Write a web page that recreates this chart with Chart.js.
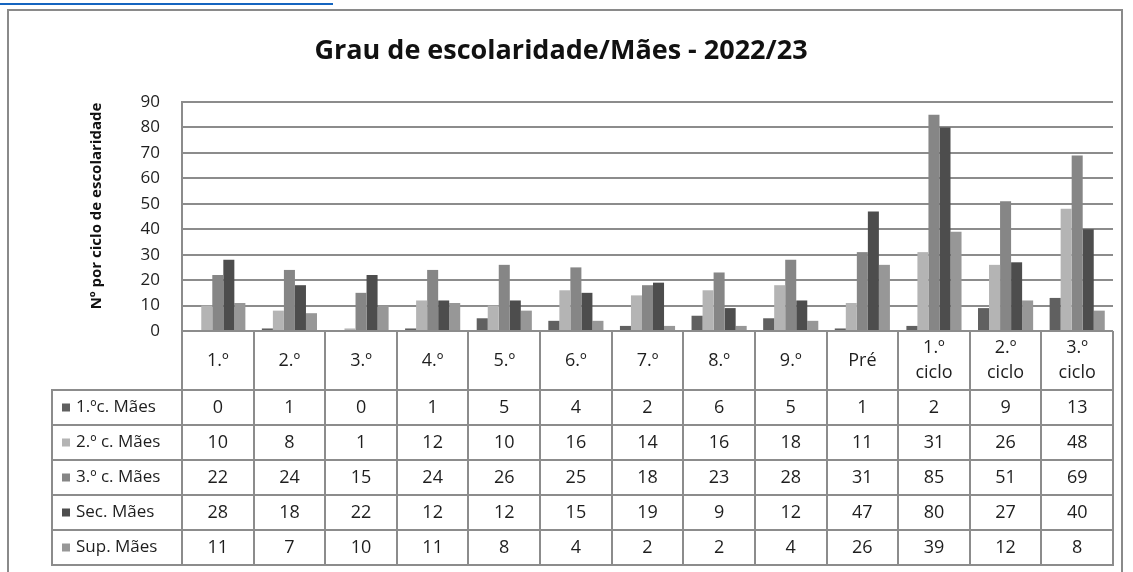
<!DOCTYPE html>
<html lang="pt">
<head>
    <meta charset="UTF-8">
    <title>Grau de escolaridade/Mães - 2022/23</title>
    <style>
        body {
            margin: 0;
            padding: 0;
            background: #fff;
            font-family: "Open Sans", Arial, sans-serif;
        }
        #wrap {
            position: relative;
            width: 1133px;
            height: 572px;
            overflow: hidden;
        }
        #linkLine {
            position: absolute;
            left: 0;
            top: 3px;
            width: 333px;
            height: 2px;
            background: #1565c0;
        }
        #frame {
            position: absolute;
            left: 7px;
            top: 9px;
            width: 1112px;
            height: 600px;
            border: 2px solid #8a8a8a;
            pointer-events: none;
        }
        canvas {
            position: absolute;
            left: 0;
            top: 0;
        }
    </style>
    <script src="https://cdn.jsdelivr.net/npm/chart.js"></script>
</head>
<body>
<div id="wrap">
    <div id="linkLine"></div>
    <div id="frame"></div>
    <canvas id="myChart" width="1133" height="572"></canvas>
</div>
<script>
    const chartTitle = 'Grau de escolaridade/Mães - 2022/23';
    const yTitle = 'Nº por ciclo de escolaridade';

    // categories (columns of the data table)
    const categories = ['1.º', '2.º', '3.º', '4.º', '5.º', '6.º', '7.º', '8.º', '9.º', 'Pré',
        ['1.º', 'ciclo'], ['2.º', 'ciclo'], ['3.º', 'ciclo']];

    // series
    const seriesNames = ['1.ºc. Mães', '2.º c. Mães', '3.º c. Mães', 'Sec. Mães', 'Sup. Mães'];
    const primeiroCiclo = [0, 1, 0, 1, 5, 4, 2, 6, 5, 1, 2, 9, 13];
    const segundoCiclo = [10, 8, 1, 12, 10, 16, 14, 16, 18, 11, 31, 26, 48];
    const terceiroCiclo = [22, 24, 15, 24, 26, 25, 18, 23, 28, 31, 85, 51, 69];
    const secundario = [28, 18, 22, 12, 12, 15, 19, 9, 12, 47, 80, 27, 40];
    const superior = [11, 7, 10, 11, 8, 4, 2, 2, 4, 26, 39, 12, 8];

    // y axis ticks
    const yMin = 0;
    const yMax = 90;
    const yStep = 10;

    const seriesData = [primeiroCiclo, segundoCiclo, terceiroCiclo, secundario, superior];
    const seriesColors = ['#606060', '#b4b4b4', '#868686', '#4d4d4d', '#979797'];
    const lineColor = '#8c8c8c';
    const textColor = '#1e1e1e';
    const fontFamily = '"Open Sans", Arial, sans-serif';

    // titles + data table under the plot (columns follow the x scale)
    const dataTable = {
        id: 'dataTable',
        afterDraw(chart) {
            const ctx = chart.ctx;
            const xs = chart.scales.x;
            const n = categories.length;
            const colW = (xs.right - xs.left) / n;
            const top = chart.chartArea.bottom;
            const headerH = 59;
            const headerBottom = top + headerH;
            const rowH = 35;
            const tableBottom = headerBottom + rowH * seriesData.length;
            const legendLeft = 52;

            ctx.save();
            // chart title
            ctx.fillStyle = '#111';
            ctx.textAlign = 'center';
            ctx.textBaseline = 'middle';
            ctx.font = 'bold 27px ' + fontFamily;
            ctx.fillText(chartTitle, 561, 51);

            // y axis title
            ctx.save();
            ctx.translate(97, 206);
            ctx.rotate(-Math.PI / 2);
            ctx.font = 'bold 15px ' + fontFamily;
            ctx.fillText(yTitle, 0, 0);
            ctx.restore();

            // table grid
            ctx.strokeStyle = lineColor;
            ctx.lineWidth = 2;
            ctx.beginPath();
            for (let i = 0; i <= n; i++) {
                const x = Math.round(xs.left + i * colW);
                ctx.moveTo(x, top);
                ctx.lineTo(x, tableBottom);
            }
            ctx.moveTo(legendLeft, headerBottom);
            ctx.lineTo(legendLeft, tableBottom);
            for (let r = 0; r <= seriesData.length; r++) {
                const y = headerBottom + r * rowH;
                ctx.moveTo(legendLeft - 1, y);
                ctx.lineTo(xs.right + 1, y);
            }
            ctx.stroke();

            // header labels
            ctx.fillStyle = textColor;
            ctx.font = '18px ' + fontFamily;
            categories.forEach((c, i) => {
                const cx = xs.getPixelForValue(i);
                if (Array.isArray(c)) {
                    ctx.fillText(c[0], cx, top + 17);
                    ctx.fillText(c[1], cx, top + 42);
                } else {
                    ctx.fillText(c, cx, top + headerH / 2);
                }
            });

            // rows
            seriesData.forEach((arr, r) => {
                const cy = headerBottom + r * rowH + rowH / 2;
                ctx.fillStyle = seriesColors[r];
                ctx.fillRect(62, cy - 4, 8, 8);
                ctx.fillStyle = textColor;
                ctx.textAlign = 'left';
                ctx.font = '17px ' + fontFamily;
                ctx.fillText(seriesNames[r], 76, cy);
                ctx.textAlign = 'center';
                ctx.font = '18px ' + fontFamily;
                arr.forEach((v, i) => ctx.fillText(String(v), xs.getPixelForValue(i), cy));
            });
            ctx.restore();
        }
    };

    const ctx = document.getElementById('myChart').getContext('2d');
    new Chart(ctx, {
        type: 'bar',
        data: {
            labels: categories,
            datasets: seriesData.map((d, i) => ({
                label: seriesNames[i],
                data: d,
                backgroundColor: seriesColors[i],
                borderWidth: 0,
                barPercentage: 1,
                categoryPercentage: 0.77
            }))
        },
        options: {
            responsive: false,
            animation: false,
            layout: {
                padding: { left: 88, right: 20, top: 102, bottom: 0 }
            },
            plugins: {
                legend: { display: false },
                tooltip: { enabled: false },
                title: { display: false }
            },
            scales: {
                x: {
                    ticks: { display: false },
                    grid: { display: false },
                    border: { display: false },
                    afterFit(scale) { scale.height = 241; }
                },
                y: {
                    min: yMin,
                    max: yMax,
                    ticks: {
                        stepSize: yStep,
                        padding: 22,
                        color: textColor,
                        font: { family: fontFamily, size: 17 }
                    },
                    grid: { color: lineColor, lineWidth: 2, drawTicks: false },
                    border: { display: true, color: lineColor, width: 2 },
                    afterFit(scale) { scale.width = 94; }
                }
            }
        },
        plugins: [dataTable]
    });
</script>
</body>
</html>
